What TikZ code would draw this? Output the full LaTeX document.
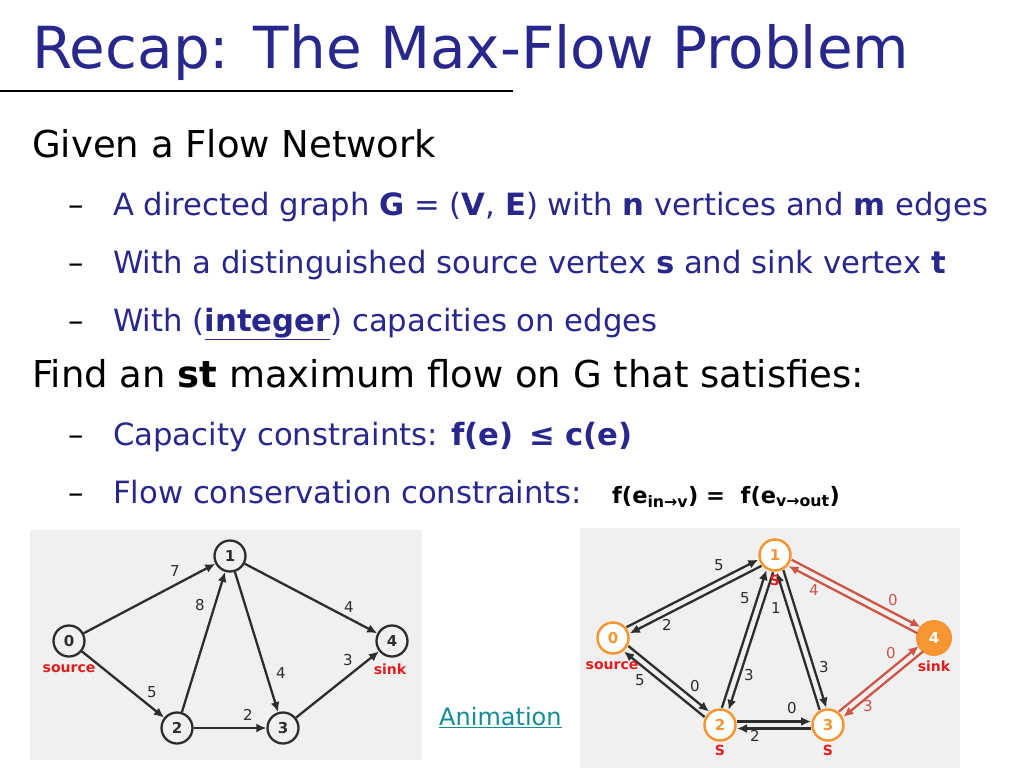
\documentclass[tikz,border=0pt]{standalone}
\usepackage{fontspec}
\setmainfont{DejaVu Sans}
\usetikzlibrary{calc,arrows.meta}
\definecolor{ttl}{RGB}{40,40,140}
\definecolor{bg}{RGB}{240,240,240}
\definecolor{org}{RGB}{245,150,50}
\definecolor{rd}{RGB}{225,30,30}
\definecolor{redge}{RGB}{205,85,70}
\definecolor{ed}{RGB}{45,45,45}
\definecolor{lnk}{RGB}{20,140,150}
\begin{document}
\begin{tikzpicture}[x=1pt,y=-1pt,
 txt/.style={anchor=base west,inner sep=0},
 sub/.style={txt,font=\fontsize{30.7}{31}\selectfont,text=ttl},
 vtx/.style={circle,draw=ed,line width=2.3pt,minimum size=31pt,inner sep=0,font=\fontsize{15}{15}\selectfont\bfseries,text=ed},
 ovtx/.style={circle,draw=org,line width=2.5pt,minimum size=31pt,inner sep=0,font=\fontsize{15}{15}\selectfont\bfseries,text=org,fill=white},
 lab/.style={font=\fontsize{15}{15}\selectfont,text=ed,inner sep=0},
 rlab/.style={font=\fontsize{14}{14}\selectfont\bfseries,text=rd,inner sep=0},
 e/.style={draw=ed,line width=2.3pt,-{Latex[length=10pt,width=9pt]}},
 re/.style={draw=redge,line width=2.3pt,-{Latex[length=10pt,width=9pt]}}]
\useasboundingbox (0,0) rectangle (1024,768);
\fill[white] (0,0) rectangle (1024,768);
% title
\node[txt,font=\fontsize{58}{58}\selectfont,text=ttl] (title) at (32,68) {Recap: The Max-Flow Problem};
\coordinate (l1) at (0,91); \coordinate (l2) at (513,91);
\draw[line width=1.5pt] (l1) -- (l2);
\node[txt,font=\fontsize{37}{37}\selectfont] (g) at (32,157) {Given a Flow Network};
\foreach \y/\n in {215/d1,273/d2,331/d3,445/d4,503/d5}{\node[sub,text=black] (\n) at (68,\y) {–};}
\node[sub] (b1) at (113,215) {A directed graph \textbf{G} = (\textbf{V}, \textbf{E}) with \textbf{n} vertices and \textbf{m} edges};
\node[sub] (b2) at (113,273) {With a distinguished source vertex \textbf{s} and sink vertex \textbf{t}};
\node[sub] (b3) at (113,331) {With (\textbf{\underline{integer}}) capacities on edges};
\node[txt,font=\fontsize{37}{37}\selectfont] (f) at (32,387) {Find an \textbf{st} maximum flow on G that satisfies:};
\node[sub] (b4) at (113,445) {Capacity constraints: \textbf{f(e) \,≤ c(e)}};
\node[sub] (b5) at (113,503) {Flow conservation constraints:};
\node[txt,font=\fontsize{22.5}{22.5}\selectfont\bfseries] (fm) at (612,503) {f(e\textsubscript{in→v}) = \ f(e\textsubscript{v→out})};
\node[txt,font=\fontsize{24}{24}\selectfont,text=lnk] (an) at (439,725) {\underline{Animation}};
% left graph
\fill[bg] (30,530) rectangle (422,760);
\node[vtx] (a0) at (69,641) {0};
\node[vtx] (a1) at (230,556) {1};
\node[vtx] (a2) at (177,728) {2};
\node[vtx] (a3) at (283,728) {3};
\node[vtx] (a4) at (392,641) {4};
\draw[e] (a0) -- (a1); \draw[e] (a0) -- (a2); \draw[e] (a2) -- (a1);
\draw[e] (a1) -- (a3); \draw[e] (a2) -- (a3); \draw[e] (a1) -- (a4); \draw[e] (a3) -- (a4);
\node[lab] at (175,571) {7}; \node[lab] at (200,605) {8}; \node[lab] at (152,692) {5};
\node[lab] at (248,715) {2}; \node[lab] at (281,673) {4}; \node[lab] at (349,607) {4}; \node[lab] at (348,660) {3};
\node[rlab] at (69,669) {source}; \node[rlab] at (390,669) {sink};
% right graph
\fill[bg] (580,528) rectangle (960,768);
\node[ovtx] (b0) at (613,638) {0};
\node[ovtx] (r1) at (775,555) {1};
\node[ovtx] (r2) at (720,725) {2};
\node[ovtx] (r3) at (828,725) {3};
\node[circle,fill=org,minimum size=36pt,inner sep=0,font=\fontsize{15}{15}\selectfont\bfseries,text=white] (r4) at (934,638) {4};
\def\pe#1#2#3{\draw[#3,shorten <=17pt,shorten >=17pt] ($(#1)!3.5pt!90:(#2)$) -- ($(#2)!3.5pt!-90:(#1)$);}
\pe{b0}{r1}{e} \pe{r1}{b0}{e}
\pe{r2}{r1}{e} \pe{r1}{r2}{e}
\pe{r1}{r3}{e} \pe{r3}{r1}{e}
\pe{r2}{r3}{e} \pe{r3}{r2}{e}
\pe{b0}{r2}{e} \pe{r2}{b0}{e}
\pe{r1}{r4}{re} \pe{r4}{r1}{re}
\pe{r3}{r4}{re} \pe{r4}{r3}{re}
\node[lab] at (719,565) {5}; \node[lab] at (667,625) {2}; \node[lab] at (745,598) {5};
\node[lab] at (749,675) {3}; \node[lab] at (776,608) {1}; \node[lab] at (824,667) {3};
\node[lab] at (792,708) {0}; \node[lab] at (755,736) {2}; \node[lab] at (640,680) {5}; \node[lab] at (695,686) {0};
\node[lab,text=redge] at (814,590) {4}; \node[lab,text=redge] at (893,600) {0};
\node[lab,text=redge] at (891,653) {0}; \node[lab,text=redge] at (868,706) {3};
\node[rlab] at (775,580) {S}; \node[rlab] at (720,750) {S}; \node[rlab] at (828,750) {S};
\node[rlab] at (612,666) {source}; \node[rlab] at (934,666) {sink};
\end{tikzpicture}
\end{document}
